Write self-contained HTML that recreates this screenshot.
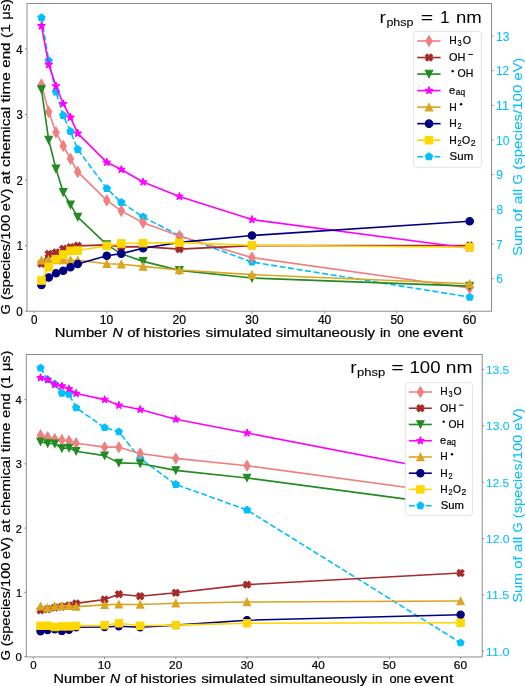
<!DOCTYPE html>
<html><head><meta charset="utf-8"><style>
html,body{margin:0;padding:0;background:#fff;width:525px;height:686px;overflow:hidden}
svg{display:block;will-change:transform}
text{font-family:"Liberation Sans", sans-serif}
</style></head><body>
<svg width="525" height="686" viewBox="0 0 525 686" font-family='"Liberation Sans", sans-serif'>
<rect width="525" height="686" fill="#fff"/>
<clipPath id="clip0"><rect x="27.0" y="3.5" width="464.5" height="307.7"/></clipPath>
<g clip-path="url(#clip0)">
<path d="M41.46,17.62 L48.72,60.62 L55.97,91.82 L63.23,115.39 L70.49,131.34 L77.75,149.37 L106.78,188.55 L121.3,202.42 L143.07,216.98 L179.36,235.7 L251.94,262.05 L469.68,297.07" fill="none" stroke="#00BFFF" stroke-width="1.62" stroke-linejoin="round" stroke-linecap="butt" stroke-dasharray="6,2.6"/>
<g fill="#00BFFF" stroke="#00BFFF" stroke-width="1.08" stroke-linejoin="miter">
<path d="M41.46,13.87 L45.02,16.47 L43.66,20.66 L39.25,20.66 L37.89,16.47Z"/>
<path d="M48.72,56.87 L52.28,59.46 L50.92,63.65 L46.51,63.65 L45.15,59.46Z"/>
<path d="M55.97,88.07 L59.54,90.66 L58.18,94.85 L53.77,94.85 L52.41,90.66Z"/>
<path d="M63.23,111.64 L66.8,114.24 L65.44,118.43 L61.03,118.43 L59.67,114.24Z"/>
<path d="M70.49,127.59 L74.06,130.18 L72.69,134.38 L68.29,134.38 L66.92,130.18Z"/>
<path d="M77.75,145.62 L81.31,148.21 L79.95,152.4 L75.54,152.4 L74.18,148.21Z"/>
<path d="M106.78,184.8 L110.35,187.39 L108.98,191.58 L104.58,191.58 L103.21,187.39Z"/>
<path d="M121.3,198.67 L124.86,201.26 L123.5,205.45 L119.09,205.45 L117.73,201.26Z"/>
<path d="M143.07,213.23 L146.64,215.82 L145.27,220.01 L140.87,220.01 L139.5,215.82Z"/>
<path d="M179.36,231.95 L182.93,234.54 L181.56,238.73 L177.16,238.73 L175.79,234.54Z"/>
<path d="M251.94,258.3 L255.51,260.89 L254.14,265.08 L249.74,265.08 L248.37,260.89Z"/>
<path d="M469.68,293.32 L473.25,295.91 L471.88,300.1 L467.48,300.1 L466.11,295.91Z"/>
</g>
<path d="M41.46,84.49 L48.72,111.84 L55.97,132.43 L63.23,145.94 L70.49,158.86 L77.75,171.91 L106.78,200.37 L121.3,210.86 L143.07,222.67 L179.36,235.98 L251.94,257.62 L469.68,287.98" fill="none" stroke="#F08080" stroke-width="1.62" stroke-linejoin="round" stroke-linecap="butt"/>
<g fill="#F08080" stroke="#F08080" stroke-width="1.08" stroke-linejoin="miter">
<path d="M41.46,79.19 L44.64,84.49 L41.46,89.79 L38.28,84.49Z"/>
<path d="M48.72,106.53 L51.9,111.84 L48.72,117.14 L45.53,111.84Z"/>
<path d="M55.97,127.13 L59.16,132.43 L55.97,137.73 L52.79,132.43Z"/>
<path d="M63.23,140.64 L66.41,145.94 L63.23,151.24 L60.05,145.94Z"/>
<path d="M70.49,153.55 L73.67,158.86 L70.49,164.16 L67.31,158.86Z"/>
<path d="M77.75,166.6 L80.93,171.91 L77.75,177.21 L74.57,171.91Z"/>
<path d="M106.78,195.07 L109.96,200.37 L106.78,205.67 L103.6,200.37Z"/>
<path d="M121.3,205.56 L124.48,210.86 L121.3,216.17 L118.11,210.86Z"/>
<path d="M143.07,217.36 L146.25,222.67 L143.07,227.97 L139.89,222.67Z"/>
<path d="M179.36,230.68 L182.54,235.98 L179.36,241.28 L176.18,235.98Z"/>
<path d="M251.94,252.32 L255.12,257.62 L251.94,262.92 L248.76,257.62Z"/>
<path d="M469.68,282.68 L472.86,287.98 L469.68,293.29 L466.5,287.98Z"/>
</g>
<path d="M41.46,263.79 L48.72,254.01 L55.97,252.51 L63.23,248.9 L70.49,247.19 L77.75,245.82 L106.78,244.83 L121.3,246.93 L143.07,246.6 L179.36,249.1 L251.94,245.62 L469.68,245.62" fill="none" stroke="#A52A2A" stroke-width="1.62" stroke-linejoin="round" stroke-linecap="butt"/>
<g fill="#A52A2A" stroke="#A52A2A" stroke-width="1.08" stroke-linejoin="miter">
<path d="M43.23,260.25 L44.99,262.02 L43.23,263.79 L44.99,265.55 L43.23,267.32 L41.46,265.55 L39.69,267.32 L37.92,265.55 L39.69,263.79 L37.92,262.02 L39.69,260.25 L41.46,262.02Z"/>
<path d="M50.48,250.48 L52.25,252.25 L50.48,254.01 L52.25,255.78 L50.48,257.55 L48.72,255.78 L46.95,257.55 L45.18,255.78 L46.95,254.01 L45.18,252.25 L46.95,250.48 L48.72,252.25Z"/>
<path d="M57.74,248.97 L59.51,250.74 L57.74,252.51 L59.51,254.27 L57.74,256.04 L55.97,254.27 L54.21,256.04 L52.44,254.27 L54.21,252.51 L52.44,250.74 L54.21,248.97 L55.97,250.74Z"/>
<path d="M65,245.36 L66.77,247.13 L65,248.9 L66.77,250.67 L65,252.43 L63.23,250.67 L61.46,252.43 L59.7,250.67 L61.46,248.9 L59.7,247.13 L61.46,245.36 L63.23,247.13Z"/>
<path d="M72.26,243.66 L74.03,245.43 L72.26,247.19 L74.03,248.96 L72.26,250.73 L70.49,248.96 L68.72,250.73 L66.95,248.96 L68.72,247.19 L66.95,245.43 L68.72,243.66 L70.49,245.43Z"/>
<path d="M79.52,242.28 L81.28,244.05 L79.52,245.82 L81.28,247.58 L79.52,249.35 L77.75,247.58 L75.98,249.35 L74.21,247.58 L75.98,245.82 L74.21,244.05 L75.98,242.28 L77.75,244.05Z"/>
<path d="M108.55,241.3 L110.32,243.07 L108.55,244.83 L110.32,246.6 L108.55,248.37 L106.78,246.6 L105.01,248.37 L103.24,246.6 L105.01,244.83 L103.24,243.07 L105.01,241.3 L106.78,243.07Z"/>
<path d="M123.06,243.4 L124.83,245.16 L123.06,246.93 L124.83,248.7 L123.06,250.47 L121.3,248.7 L119.53,250.47 L117.76,248.7 L119.53,246.93 L117.76,245.16 L119.53,243.4 L121.3,245.16Z"/>
<path d="M144.84,243.07 L146.61,244.84 L144.84,246.6 L146.61,248.37 L144.84,250.14 L143.07,248.37 L141.3,250.14 L139.53,248.37 L141.3,246.6 L139.53,244.84 L141.3,243.07 L143.07,244.84Z"/>
<path d="M181.13,245.56 L182.9,247.33 L181.13,249.1 L182.9,250.86 L181.13,252.63 L179.36,250.86 L177.59,252.63 L175.82,250.86 L177.59,249.1 L175.82,247.33 L177.59,245.56 L179.36,247.33Z"/>
<path d="M253.71,242.08 L255.48,243.85 L253.71,245.62 L255.48,247.39 L253.71,249.16 L251.94,247.39 L250.17,249.16 L248.4,247.39 L250.17,245.62 L248.4,243.85 L250.17,242.08 L251.94,243.85Z"/>
<path d="M471.45,242.08 L473.22,243.85 L471.45,245.62 L473.22,247.39 L471.45,249.16 L469.68,247.39 L467.91,249.16 L466.14,247.39 L467.91,245.62 L466.14,243.85 L467.91,242.08 L469.68,243.85Z"/>
</g>
<path d="M41.46,89.54 L48.72,140.04 L55.97,168.69 L63.23,192.3 L70.49,204.7 L77.75,217.09 L106.78,244.64 L121.3,253.82 L143.07,261.36 L179.36,270.41 L251.94,278.02 L469.68,286.08" fill="none" stroke="#228B22" stroke-width="1.62" stroke-linejoin="round" stroke-linecap="butt"/>
<g fill="#228B22" stroke="#228B22" stroke-width="1.08" stroke-linejoin="miter">
<path d="M41.46,93.29 L45.21,85.79 L37.71,85.79Z"/>
<path d="M48.72,143.79 L52.47,136.29 L44.97,136.29Z"/>
<path d="M55.97,172.44 L59.72,164.94 L52.22,164.94Z"/>
<path d="M63.23,196.05 L66.98,188.55 L59.48,188.55Z"/>
<path d="M70.49,208.45 L74.24,200.95 L66.74,200.95Z"/>
<path d="M77.75,220.84 L81.5,213.34 L74,213.34Z"/>
<path d="M106.78,248.39 L110.53,240.89 L103.03,240.89Z"/>
<path d="M143.07,265.11 L146.82,257.61 L139.32,257.61Z"/>
<path d="M179.36,274.16 L183.11,266.66 L175.61,266.66Z"/>
<path d="M251.94,281.77 L255.69,274.27 L248.19,274.27Z"/>
<path d="M469.68,289.83 L473.43,282.33 L465.93,282.33Z"/>
</g>
<path d="M41.46,25.93 L48.72,64.62 L55.97,86 L63.23,103.77 L70.49,117.41 L77.75,133.41 L106.78,162.33 L121.3,169.55 L143.07,182.01 L179.36,196.44 L251.94,219.58 L469.68,248.24" fill="none" stroke="#FF00FF" stroke-width="1.62" stroke-linejoin="round" stroke-linecap="butt"/>
<g fill="#FF00FF" stroke="#FF00FF" stroke-width="1.08" stroke-linejoin="bevel">
<path d="M41.46,21.8 L42.38,24.65 L45.38,24.65 L42.96,26.41 L43.88,29.26 L41.46,27.5 L39.03,29.26 L39.96,26.41 L37.53,24.65 L40.53,24.65Z"/>
<path d="M48.72,60.49 L49.64,63.34 L52.64,63.34 L50.21,65.11 L51.14,67.96 L48.72,66.19 L46.29,67.96 L47.22,65.11 L44.79,63.34 L47.79,63.34Z"/>
<path d="M55.97,81.87 L56.9,84.72 L59.9,84.72 L57.47,86.49 L58.4,89.34 L55.97,87.57 L53.55,89.34 L54.48,86.49 L52.05,84.72 L55.05,84.72Z"/>
<path d="M63.23,99.65 L64.16,102.5 L67.16,102.5 L64.73,104.26 L65.66,107.11 L63.23,105.35 L60.81,107.11 L61.73,104.26 L59.31,102.5 L62.31,102.5Z"/>
<path d="M70.49,113.29 L71.42,116.14 L74.41,116.14 L71.99,117.9 L72.91,120.75 L70.49,118.99 L68.07,120.75 L68.99,117.9 L66.57,116.14 L69.56,116.14Z"/>
<path d="M77.75,129.29 L78.67,132.14 L81.67,132.14 L79.25,133.9 L80.17,136.75 L77.75,134.99 L75.32,136.75 L76.25,133.9 L73.82,132.14 L76.82,132.14Z"/>
<path d="M106.78,158.21 L107.71,161.06 L110.7,161.06 L108.28,162.82 L109.2,165.67 L106.78,163.91 L104.36,165.67 L105.28,162.82 L102.86,161.06 L105.85,161.06Z"/>
<path d="M121.3,165.42 L122.22,168.27 L125.22,168.27 L122.79,170.03 L123.72,172.88 L121.3,171.12 L118.87,172.88 L119.8,170.03 L117.37,168.27 L120.37,168.27Z"/>
<path d="M143.07,177.88 L144,180.73 L146.99,180.73 L144.57,182.49 L145.49,185.34 L143.07,183.58 L140.65,185.34 L141.57,182.49 L139.15,180.73 L142.14,180.73Z"/>
<path d="M179.36,192.31 L180.29,195.16 L183.28,195.16 L180.86,196.92 L181.78,199.77 L179.36,198.01 L176.94,199.77 L177.86,196.92 L175.44,195.16 L178.43,195.16Z"/>
<path d="M251.94,215.46 L252.87,218.31 L255.86,218.31 L253.44,220.07 L254.36,222.92 L251.94,221.16 L249.52,222.92 L250.44,220.07 L248.02,218.31 L251.01,218.31Z"/>
<path d="M469.68,244.12 L470.61,246.97 L473.6,246.97 L471.18,248.73 L472.1,251.58 L469.68,249.82 L467.26,251.58 L468.18,248.73 L465.76,246.97 L468.75,246.97Z"/>
</g>
<path d="M41.46,260.31 L48.72,259.72 L55.97,260.05 L63.23,260.05 L70.49,260.24 L77.75,260.24 L106.78,263.72 L121.3,264.31 L143.07,266.41 L179.36,270.02 L251.94,274.67 L469.68,283.79" fill="none" stroke="#DAA520" stroke-width="1.62" stroke-linejoin="round" stroke-linecap="butt"/>
<g fill="#DAA520" stroke="#DAA520" stroke-width="1.08" stroke-linejoin="miter">
<path d="M41.46,256.56 L45.21,264.06 L37.71,264.06Z"/>
<path d="M48.72,255.97 L52.47,263.47 L44.97,263.47Z"/>
<path d="M55.97,256.3 L59.72,263.8 L52.22,263.8Z"/>
<path d="M63.23,256.3 L66.98,263.8 L59.48,263.8Z"/>
<path d="M70.49,256.49 L74.24,263.99 L66.74,263.99Z"/>
<path d="M77.75,256.49 L81.5,263.99 L74,263.99Z"/>
<path d="M106.78,259.97 L110.53,267.47 L103.03,267.47Z"/>
<path d="M121.3,260.56 L125.05,268.06 L117.55,268.06Z"/>
<path d="M143.07,262.66 L146.82,270.16 L139.32,270.16Z"/>
<path d="M179.36,266.27 L183.11,273.77 L175.61,273.77Z"/>
<path d="M251.94,270.92 L255.69,278.42 L248.19,278.42Z"/>
<path d="M469.68,280.04 L473.43,287.54 L465.93,287.54Z"/>
</g>
<path d="M41.46,284.97 L48.72,277.43 L55.97,273.29 L63.23,270.74 L70.49,267.33 L77.75,263.98 L106.78,255.72 L121.3,253.62 L143.07,248.24 L179.36,242.34 L251.94,235.52 L469.68,221.29" fill="none" stroke="#000080" stroke-width="1.62" stroke-linejoin="round" stroke-linecap="butt"/>
<g fill="#000080" stroke="#000080" stroke-width="1.08" stroke-linejoin="round">
<circle cx="41.46" cy="284.97" r="3.75"/>
<circle cx="48.72" cy="277.43" r="3.75"/>
<circle cx="55.97" cy="273.29" r="3.75"/>
<circle cx="63.23" cy="270.74" r="3.75"/>
<circle cx="70.49" cy="267.33" r="3.75"/>
<circle cx="77.75" cy="263.98" r="3.75"/>
<circle cx="106.78" cy="255.72" r="3.75"/>
<circle cx="121.3" cy="253.62" r="3.75"/>
<circle cx="143.07" cy="248.24" r="3.75"/>
<circle cx="179.36" cy="242.34" r="3.75"/>
<circle cx="251.94" cy="235.52" r="3.75"/>
<circle cx="469.68" cy="221.29" r="3.75"/>
</g>
<path d="M41.46,280.51 L48.72,267.2 L55.97,259.2 L63.23,254.54 L70.49,250.87 L77.75,250.54 L106.78,245.88 L121.3,243.46 L143.07,243.13 L179.36,242.6 L251.94,245.29 L469.68,247.26" fill="none" stroke="#FFD700" stroke-width="1.62" stroke-linejoin="round" stroke-linecap="butt"/>
<g fill="#FFD700" stroke="#FFD700" stroke-width="1.08" stroke-linejoin="miter">
<rect x="37.71" y="276.76" width="7.5" height="7.5"/>
<rect x="44.97" y="263.45" width="7.5" height="7.5"/>
<rect x="52.22" y="255.45" width="7.5" height="7.5"/>
<rect x="59.48" y="250.79" width="7.5" height="7.5"/>
<rect x="66.74" y="247.12" width="7.5" height="7.5"/>
<rect x="74" y="246.79" width="7.5" height="7.5"/>
<rect x="103.03" y="242.13" width="7.5" height="7.5"/>
<rect x="117.55" y="239.71" width="7.5" height="7.5"/>
<rect x="139.32" y="239.38" width="7.5" height="7.5"/>
<rect x="175.61" y="238.85" width="7.5" height="7.5"/>
<rect x="248.19" y="241.54" width="7.5" height="7.5"/>
<rect x="465.93" y="243.51" width="7.5" height="7.5"/>
</g>
</g>
<rect x="27" y="3.5" width="464.5" height="307.7" fill="none" stroke="#8c8c8c" stroke-width="1.0"/>
<clipPath id="clip1"><rect x="26.3" y="354.5" width="455.9" height="302.45"/></clipPath>
<g clip-path="url(#clip1)">
<path d="M40.52,367.98 L47.64,379.59 L54.76,384.1 L61.88,393.12 L69,394.24 L76.12,407.77 L104.6,427.6 L118.84,431.77 L140.2,458.48 L175.8,484.4 L247,509.99 L460.6,642.75" fill="none" stroke="#00BFFF" stroke-width="1.59" stroke-linejoin="round" stroke-linecap="butt" stroke-dasharray="5.89,2.55"/>
<g fill="#00BFFF" stroke="#00BFFF" stroke-width="1.06" stroke-linejoin="miter">
<path d="M40.52,364.3 L44.02,366.85 L42.68,370.96 L38.36,370.96 L37.02,366.85Z"/>
<path d="M47.64,375.91 L51.14,378.46 L49.8,382.57 L45.48,382.57 L44.14,378.46Z"/>
<path d="M54.76,380.42 L58.26,382.96 L56.92,387.08 L52.6,387.08 L51.26,382.96Z"/>
<path d="M61.88,389.43 L65.38,391.98 L64.04,396.1 L59.72,396.1 L58.38,391.98Z"/>
<path d="M69,390.56 L72.5,393.11 L71.16,397.22 L66.84,397.22 L65.5,393.11Z"/>
<path d="M76.12,404.09 L79.62,406.63 L78.28,410.75 L73.96,410.75 L72.62,406.63Z"/>
<path d="M104.6,423.92 L108.1,426.47 L106.76,430.58 L102.44,430.58 L101.1,426.47Z"/>
<path d="M118.84,428.09 L122.34,430.64 L121,434.75 L116.68,434.75 L115.34,430.64Z"/>
<path d="M140.2,454.8 L143.7,457.35 L142.36,461.46 L138.04,461.46 L136.7,457.35Z"/>
<path d="M175.8,480.72 L179.3,483.27 L177.96,487.38 L173.64,487.38 L172.3,483.27Z"/>
<path d="M247,506.3 L250.5,508.85 L249.16,512.97 L244.84,512.97 L243.5,508.85Z"/>
<path d="M460.6,639.07 L464.1,641.61 L462.76,645.73 L458.44,645.73 L457.1,641.61Z"/>
</g>
<path d="M40.52,435.19 L47.64,437.12 L54.76,438.99 L61.88,440.01 L69,440.91 L76.12,443.29 L104.6,447.15 L118.84,447.15 L140.2,453.57 L175.8,458.39 L247,465.71 L460.6,494.69" fill="none" stroke="#F08080" stroke-width="1.59" stroke-linejoin="round" stroke-linecap="butt"/>
<g fill="#F08080" stroke="#F08080" stroke-width="1.06" stroke-linejoin="miter">
<path d="M40.52,429.99 L43.64,435.19 L40.52,440.4 L37.4,435.19Z"/>
<path d="M47.64,431.91 L50.76,437.12 L47.64,442.33 L44.52,437.12Z"/>
<path d="M54.76,433.78 L57.88,438.99 L54.76,444.19 L51.64,438.99Z"/>
<path d="M61.88,434.81 L65,440.01 L61.88,445.22 L58.76,440.01Z"/>
<path d="M69,435.7 L72.12,440.91 L69,446.12 L65.88,440.91Z"/>
<path d="M76.12,438.08 L79.24,443.29 L76.12,448.5 L73,443.29Z"/>
<path d="M104.6,441.94 L107.72,447.15 L104.6,452.35 L101.48,447.15Z"/>
<path d="M118.84,441.94 L121.96,447.15 L118.84,452.35 L115.72,447.15Z"/>
<path d="M140.2,448.36 L143.32,453.57 L140.2,458.78 L137.08,453.57Z"/>
<path d="M175.8,453.18 L178.92,458.39 L175.8,463.6 L172.68,458.39Z"/>
<path d="M247,460.51 L250.12,465.71 L247,470.92 L243.88,465.71Z"/>
<path d="M460.6,489.48 L463.72,494.69 L460.6,499.9 L457.48,494.69Z"/>
</g>
<path d="M40.52,610.34 L47.64,609.31 L54.76,607.64 L61.88,606.68 L69,605.39 L76.12,603.4 L104.6,599.48 L118.84,594.21 L140.2,596.21 L175.8,592.8 L247,584.64 L460.6,573.08" fill="none" stroke="#A52A2A" stroke-width="1.59" stroke-linejoin="round" stroke-linecap="butt"/>
<g fill="#A52A2A" stroke="#A52A2A" stroke-width="1.06" stroke-linejoin="miter">
<path d="M42.26,606.87 L43.99,608.6 L42.26,610.34 L43.99,612.08 L42.26,613.81 L40.52,612.08 L38.78,613.81 L37.05,612.08 L38.78,610.34 L37.05,608.6 L38.78,606.87 L40.52,608.6Z"/>
<path d="M49.38,605.84 L51.11,607.58 L49.38,609.31 L51.11,611.05 L49.38,612.78 L47.64,611.05 L45.9,612.78 L44.17,611.05 L45.9,609.31 L44.17,607.58 L45.9,605.84 L47.64,607.58Z"/>
<path d="M56.5,604.17 L58.23,605.91 L56.5,607.64 L58.23,609.38 L56.5,611.11 L54.76,609.38 L53.02,611.11 L51.29,609.38 L53.02,607.64 L51.29,605.91 L53.02,604.17 L54.76,605.91Z"/>
<path d="M63.62,603.21 L65.35,604.94 L63.62,606.68 L65.35,608.41 L63.62,610.15 L61.88,608.41 L60.14,610.15 L58.41,608.41 L60.14,606.68 L58.41,604.94 L60.14,603.21 L61.88,604.94Z"/>
<path d="M70.74,601.92 L72.47,603.66 L70.74,605.39 L72.47,607.13 L70.74,608.86 L69,607.13 L67.26,608.86 L65.53,607.13 L67.26,605.39 L65.53,603.66 L67.26,601.92 L69,603.66Z"/>
<path d="M77.86,599.93 L79.59,601.67 L77.86,603.4 L79.59,605.14 L77.86,606.87 L76.12,605.14 L74.38,606.87 L72.65,605.14 L74.38,603.4 L72.65,601.67 L74.38,599.93 L76.12,601.67Z"/>
<path d="M106.34,596.01 L108.07,597.75 L106.34,599.48 L108.07,601.22 L106.34,602.95 L104.6,601.22 L102.86,602.95 L101.13,601.22 L102.86,599.48 L101.13,597.75 L102.86,596.01 L104.6,597.75Z"/>
<path d="M120.58,590.74 L122.31,592.48 L120.58,594.21 L122.31,595.95 L120.58,597.69 L118.84,595.95 L117.1,597.69 L115.37,595.95 L117.1,594.21 L115.37,592.48 L117.1,590.74 L118.84,592.48Z"/>
<path d="M141.94,592.73 L143.67,594.47 L141.94,596.21 L143.67,597.94 L141.94,599.68 L140.2,597.94 L138.46,599.68 L136.73,597.94 L138.46,596.21 L136.73,594.47 L138.46,592.73 L140.2,594.47Z"/>
<path d="M177.54,589.33 L179.27,591.06 L177.54,592.8 L179.27,594.54 L177.54,596.27 L175.8,594.54 L174.06,596.27 L172.33,594.54 L174.06,592.8 L172.33,591.06 L174.06,589.33 L175.8,591.06Z"/>
<path d="M248.74,581.17 L250.47,582.9 L248.74,584.64 L250.47,586.38 L248.74,588.11 L247,586.38 L245.26,588.11 L243.53,586.38 L245.26,584.64 L243.53,582.9 L245.26,581.17 L247,582.9Z"/>
<path d="M462.34,569.6 L464.07,571.34 L462.34,573.08 L464.07,574.81 L462.34,576.55 L460.6,574.81 L458.86,576.55 L457.13,574.81 L458.86,573.08 L457.13,571.34 L458.86,569.6 L460.6,571.34Z"/>
</g>
<path d="M40.52,441.68 L47.64,443.48 L54.76,443.8 L61.88,448.43 L69,448.04 L76.12,451.19 L104.6,455.63 L118.84,462.89 L140.2,463.53 L175.8,470.4 L247,477.92 L460.6,506.38" fill="none" stroke="#228B22" stroke-width="1.59" stroke-linejoin="round" stroke-linecap="butt"/>
<g fill="#228B22" stroke="#228B22" stroke-width="1.06" stroke-linejoin="miter">
<path d="M40.52,445.37 L44.2,438 L36.84,438Z"/>
<path d="M47.64,447.17 L51.32,439.8 L43.96,439.8Z"/>
<path d="M54.76,447.49 L58.44,440.12 L51.08,440.12Z"/>
<path d="M61.88,452.11 L65.56,444.75 L58.2,444.75Z"/>
<path d="M69,451.73 L72.68,444.36 L65.32,444.36Z"/>
<path d="M76.12,454.88 L79.8,447.51 L72.44,447.51Z"/>
<path d="M104.6,459.31 L108.28,451.94 L100.92,451.94Z"/>
<path d="M118.84,466.57 L122.52,459.2 L115.16,459.2Z"/>
<path d="M140.2,467.21 L143.88,459.85 L136.52,459.85Z"/>
<path d="M175.8,474.09 L179.48,466.72 L172.12,466.72Z"/>
<path d="M247,481.6 L250.68,474.24 L243.32,474.24Z"/>
<path d="M460.6,510.07 L464.28,502.7 L456.92,502.7Z"/>
</g>
<path d="M40.52,377.76 L47.64,379.68 L54.76,384.5 L61.88,386.11 L69,388.87 L76.12,393.5 L104.6,399.6 L118.84,405.32 L140.2,409.49 L175.8,419.2 L247,433.01 L460.6,474.32" fill="none" stroke="#FF00FF" stroke-width="1.59" stroke-linejoin="round" stroke-linecap="butt"/>
<g fill="#FF00FF" stroke="#FF00FF" stroke-width="1.06" stroke-linejoin="bevel">
<path d="M40.52,373.7 L41.43,376.5 L44.37,376.5 L41.99,378.23 L42.9,381.03 L40.52,379.3 L38.14,381.03 L39.05,378.23 L36.67,376.5 L39.61,376.5Z"/>
<path d="M47.64,375.63 L48.55,378.43 L51.49,378.43 L49.11,380.16 L50.02,382.96 L47.64,381.23 L45.26,382.96 L46.17,380.16 L43.79,378.43 L46.73,378.43Z"/>
<path d="M54.76,380.45 L55.67,383.25 L58.61,383.25 L56.23,384.98 L57.14,387.78 L54.76,386.05 L52.38,387.78 L53.29,384.98 L50.91,383.25 L53.85,383.25Z"/>
<path d="M61.88,382.06 L62.79,384.86 L65.73,384.86 L63.35,386.59 L64.26,389.38 L61.88,387.65 L59.5,389.38 L60.41,386.59 L58.03,384.86 L60.97,384.86Z"/>
<path d="M69,384.82 L69.91,387.62 L72.85,387.62 L70.47,389.35 L71.38,392.15 L69,390.42 L66.62,392.15 L67.53,389.35 L65.15,387.62 L68.09,387.62Z"/>
<path d="M76.12,389.45 L77.03,392.24 L79.97,392.24 L77.59,393.97 L78.5,396.77 L76.12,395.04 L73.74,396.77 L74.65,393.97 L72.27,392.24 L75.21,392.24Z"/>
<path d="M104.6,395.55 L105.51,398.35 L108.45,398.35 L106.07,400.08 L106.98,402.88 L104.6,401.15 L102.22,402.88 L103.13,400.08 L100.75,398.35 L103.69,398.35Z"/>
<path d="M118.84,401.27 L119.75,404.07 L122.69,404.07 L120.31,405.8 L121.22,408.6 L118.84,406.87 L116.46,408.6 L117.37,405.8 L114.99,404.07 L117.93,404.07Z"/>
<path d="M140.2,405.44 L141.11,408.24 L144.05,408.24 L141.67,409.97 L142.58,412.77 L140.2,411.04 L137.82,412.77 L138.73,409.97 L136.35,408.24 L139.29,408.24Z"/>
<path d="M175.8,415.15 L176.71,417.94 L179.65,417.94 L177.27,419.67 L178.18,422.47 L175.8,420.74 L173.42,422.47 L174.33,419.67 L171.95,417.94 L174.89,417.94Z"/>
<path d="M247,428.96 L247.91,431.76 L250.85,431.76 L248.47,433.49 L249.38,436.29 L247,434.56 L244.62,436.29 L245.53,433.49 L243.15,431.76 L246.09,431.76Z"/>
<path d="M460.6,470.27 L461.51,473.07 L464.45,473.07 L462.07,474.8 L462.98,477.6 L460.6,475.87 L458.22,477.6 L459.13,474.8 L456.75,473.07 L459.69,473.07Z"/>
</g>
<path d="M40.52,606.29 L47.64,607.96 L54.76,606.29 L61.88,605.84 L69,605.84 L76.12,606.61 L104.6,604.88 L118.84,604.3 L140.2,604.43 L175.8,603.21 L247,601.99 L460.6,601.02" fill="none" stroke="#DAA520" stroke-width="1.59" stroke-linejoin="round" stroke-linecap="butt"/>
<g fill="#DAA520" stroke="#DAA520" stroke-width="1.06" stroke-linejoin="miter">
<path d="M40.52,602.61 L44.2,609.97 L36.84,609.97Z"/>
<path d="M47.64,604.28 L51.32,611.65 L43.96,611.65Z"/>
<path d="M54.76,602.61 L58.44,609.97 L51.08,609.97Z"/>
<path d="M61.88,602.16 L65.56,609.52 L58.2,609.52Z"/>
<path d="M69,602.16 L72.68,609.52 L65.32,609.52Z"/>
<path d="M76.12,602.93 L79.8,610.3 L72.44,610.3Z"/>
<path d="M104.6,601.2 L108.28,608.56 L100.92,608.56Z"/>
<path d="M118.84,600.62 L122.52,607.98 L115.16,607.98Z"/>
<path d="M140.2,600.75 L143.88,608.11 L136.52,608.11Z"/>
<path d="M175.8,599.53 L179.48,606.89 L172.12,606.89Z"/>
<path d="M247,598.31 L250.68,605.67 L243.32,605.67Z"/>
<path d="M460.6,597.34 L464.28,604.71 L456.92,604.71Z"/>
</g>
<path d="M40.52,631.22 L47.64,629.94 L54.76,629.29 L61.88,630.9 L69,629.87 L76.12,627.3 L104.6,627.05 L118.84,626.21 L140.2,627.3 L175.8,625.12 L247,620.17 L460.6,614.77" fill="none" stroke="#000080" stroke-width="1.59" stroke-linejoin="round" stroke-linecap="butt"/>
<g fill="#000080" stroke="#000080" stroke-width="1.06" stroke-linejoin="round">
<circle cx="40.52" cy="631.22" r="3.68"/>
<circle cx="47.64" cy="629.94" r="3.68"/>
<circle cx="54.76" cy="629.29" r="3.68"/>
<circle cx="61.88" cy="630.9" r="3.68"/>
<circle cx="69" cy="629.87" r="3.68"/>
<circle cx="76.12" cy="627.3" r="3.68"/>
<circle cx="104.6" cy="627.05" r="3.68"/>
<circle cx="118.84" cy="626.21" r="3.68"/>
<circle cx="140.2" cy="627.3" r="3.68"/>
<circle cx="175.8" cy="625.12" r="3.68"/>
<circle cx="247" cy="620.17" r="3.68"/>
<circle cx="460.6" cy="614.77" r="3.68"/>
</g>
<path d="M40.52,625.76 L47.64,625.76 L54.76,627.05 L61.88,626.4 L69,626.4 L76.12,625.89 L104.6,625.18 L118.84,623.32 L140.2,625.76 L175.8,625.12 L247,623.32 L460.6,622.8" fill="none" stroke="#FFD700" stroke-width="1.59" stroke-linejoin="round" stroke-linecap="butt"/>
<g fill="#FFD700" stroke="#FFD700" stroke-width="1.06" stroke-linejoin="miter">
<rect x="36.84" y="622.08" width="7.37" height="7.37"/>
<rect x="43.96" y="622.08" width="7.37" height="7.37"/>
<rect x="51.08" y="623.36" width="7.37" height="7.37"/>
<rect x="58.2" y="622.72" width="7.37" height="7.37"/>
<rect x="65.32" y="622.72" width="7.37" height="7.37"/>
<rect x="72.44" y="622.21" width="7.37" height="7.37"/>
<rect x="100.92" y="621.5" width="7.37" height="7.37"/>
<rect x="115.16" y="619.64" width="7.37" height="7.37"/>
<rect x="136.52" y="622.08" width="7.37" height="7.37"/>
<rect x="172.12" y="621.44" width="7.37" height="7.37"/>
<rect x="243.32" y="619.64" width="7.37" height="7.37"/>
<rect x="456.92" y="619.12" width="7.37" height="7.37"/>
</g>
</g>
<rect x="26.3" y="354.5" width="455.9" height="302.45" fill="none" stroke="#8c8c8c" stroke-width="1.0"/>
<text x="16.22" y="315.92" font-size="11.9" fill="#000" stroke="#000" stroke-width="0.2" textLength="6.5" lengthAdjust="spacingAndGlyphs">0</text>
<text x="16.69" y="250.34" font-size="11.9" fill="#000" stroke="#000" stroke-width="0.2" textLength="6.12" lengthAdjust="spacingAndGlyphs">1</text>
<text x="16.57" y="184.75" font-size="11.9" fill="#000" stroke="#000" stroke-width="0.2" textLength="6.25" lengthAdjust="spacingAndGlyphs">2</text>
<text x="16.57" y="119.17" font-size="11.9" fill="#000" stroke="#000" stroke-width="0.2" textLength="6.25" lengthAdjust="spacingAndGlyphs">3</text>
<text x="16.24" y="53.59" font-size="11.9" fill="#000" stroke="#000" stroke-width="0.2" textLength="6.36" lengthAdjust="spacingAndGlyphs">4</text>
<text x="30.93" y="323.6" font-size="11.9" fill="#000" stroke="#000" stroke-width="0.2" textLength="6.5" lengthAdjust="spacingAndGlyphs">0</text>
<text x="99.76" y="323.6" font-size="11.9" fill="#000" stroke="#000" stroke-width="0.2" textLength="13.46" lengthAdjust="spacingAndGlyphs">10</text>
<text x="172.48" y="323.6" font-size="11.9" fill="#000" stroke="#000" stroke-width="0.2" textLength="13.54" lengthAdjust="spacingAndGlyphs">20</text>
<text x="245.25" y="323.6" font-size="11.9" fill="#000" stroke="#000" stroke-width="0.2" textLength="13.29" lengthAdjust="spacingAndGlyphs">30</text>
<text x="317.9" y="323.6" font-size="11.9" fill="#000" stroke="#000" stroke-width="0.2" textLength="13.39" lengthAdjust="spacingAndGlyphs">40</text>
<text x="390.41" y="323.6" font-size="11.9" fill="#000" stroke="#000" stroke-width="0.2" textLength="13.29" lengthAdjust="spacingAndGlyphs">50</text>
<text x="462.8" y="323.6" font-size="11.9" fill="#000" stroke="#000" stroke-width="0.2" textLength="13.54" lengthAdjust="spacingAndGlyphs">60</text>
<text x="496.3" y="283.31" font-size="11.9" fill="#00BFFF" stroke="#00BFFF" stroke-width="0.05" textLength="6.65" lengthAdjust="spacingAndGlyphs">6</text>
<text x="496.34" y="248.63" font-size="11.9" fill="#00BFFF" stroke="#00BFFF" stroke-width="0.05" textLength="6.25" lengthAdjust="spacingAndGlyphs">7</text>
<text x="496.43" y="213.97" font-size="11.9" fill="#00BFFF" stroke="#00BFFF" stroke-width="0.05" textLength="6.51" lengthAdjust="spacingAndGlyphs">8</text>
<text x="496.29" y="179.29" font-size="11.9" fill="#00BFFF" stroke="#00BFFF" stroke-width="0.05" textLength="6.78" lengthAdjust="spacingAndGlyphs">9</text>
<text x="495.93" y="144.62" font-size="11.9" fill="#00BFFF" stroke="#00BFFF" stroke-width="0.05" textLength="13.46" lengthAdjust="spacingAndGlyphs">10</text>
<text x="495.87" y="109.96" font-size="11.9" fill="#00BFFF" stroke="#00BFFF" stroke-width="0.05" textLength="13.43" lengthAdjust="spacingAndGlyphs">11</text>
<text x="495.95" y="75.29" font-size="11.9" fill="#00BFFF" stroke="#00BFFF" stroke-width="0.05" textLength="13.22" lengthAdjust="spacingAndGlyphs">12</text>
<text x="495.93" y="40.62" font-size="11.9" fill="#00BFFF" stroke="#00BFFF" stroke-width="0.05" textLength="13.47" lengthAdjust="spacingAndGlyphs">13</text>
<path d="M25,311.2 H27 M25,245.62 H27 M25,180.04 H27 M25,114.46 H27 M25,48.88 H27 M34.2,311.2 V313.2 M106.78,311.2 V313.2 M179.36,311.2 V313.2 M251.94,311.2 V313.2 M324.52,311.2 V313.2 M397.1,311.2 V313.2 M469.68,311.2 V313.2 M491.5,278.69 H493.5 M491.5,244.02 H493.5 M491.5,209.35 H493.5 M491.5,174.68 H493.5 M491.5,140.01 H493.5 M491.5,105.34 H493.5 M491.5,70.67 H493.5 M491.5,36 H493.5" stroke="#8c8c8c" stroke-width="1.0" fill="none"/>
<text x="15.43" y="661.23" font-size="11.69" fill="#000" stroke="#000" stroke-width="0.2" textLength="6.38" lengthAdjust="spacingAndGlyphs">0</text>
<text x="15.89" y="596.98" font-size="11.69" fill="#000" stroke="#000" stroke-width="0.2" textLength="6.01" lengthAdjust="spacingAndGlyphs">1</text>
<text x="15.77" y="532.73" font-size="11.69" fill="#000" stroke="#000" stroke-width="0.2" textLength="6.14" lengthAdjust="spacingAndGlyphs">2</text>
<text x="15.77" y="468.48" font-size="11.69" fill="#000" stroke="#000" stroke-width="0.2" textLength="6.13" lengthAdjust="spacingAndGlyphs">3</text>
<text x="15.45" y="404.23" font-size="11.69" fill="#000" stroke="#000" stroke-width="0.2" textLength="6.24" lengthAdjust="spacingAndGlyphs">4</text>
<text x="30.19" y="669.4" font-size="11.69" fill="#000" stroke="#000" stroke-width="0.2" textLength="6.38" lengthAdjust="spacingAndGlyphs">0</text>
<text x="97.71" y="669.4" font-size="11.69" fill="#000" stroke="#000" stroke-width="0.2" textLength="13.22" lengthAdjust="spacingAndGlyphs">10</text>
<text x="169.05" y="669.4" font-size="11.69" fill="#000" stroke="#000" stroke-width="0.2" textLength="13.3" lengthAdjust="spacingAndGlyphs">20</text>
<text x="240.43" y="669.4" font-size="11.69" fill="#000" stroke="#000" stroke-width="0.2" textLength="13.05" lengthAdjust="spacingAndGlyphs">30</text>
<text x="311.7" y="669.4" font-size="11.69" fill="#000" stroke="#000" stroke-width="0.2" textLength="13.15" lengthAdjust="spacingAndGlyphs">40</text>
<text x="382.83" y="669.4" font-size="11.69" fill="#000" stroke="#000" stroke-width="0.2" textLength="13.05" lengthAdjust="spacingAndGlyphs">50</text>
<text x="453.85" y="669.4" font-size="11.69" fill="#000" stroke="#000" stroke-width="0.2" textLength="13.3" lengthAdjust="spacingAndGlyphs">60</text>
<text x="485.89" y="655.73" font-size="11.69" fill="#00BFFF" stroke="#00BFFF" stroke-width="0.05" textLength="23.55" lengthAdjust="spacingAndGlyphs">11.0</text>
<text x="485.9" y="599.38" font-size="11.69" fill="#00BFFF" stroke="#00BFFF" stroke-width="0.05" textLength="23.32" lengthAdjust="spacingAndGlyphs">11.5</text>
<text x="485.93" y="543.03" font-size="11.69" fill="#00BFFF" stroke="#00BFFF" stroke-width="0.05" textLength="23.55" lengthAdjust="spacingAndGlyphs">12.0</text>
<text x="485.94" y="486.68" font-size="11.69" fill="#00BFFF" stroke="#00BFFF" stroke-width="0.05" textLength="23.32" lengthAdjust="spacingAndGlyphs">12.5</text>
<text x="485.93" y="430.33" font-size="11.69" fill="#00BFFF" stroke="#00BFFF" stroke-width="0.05" textLength="23.55" lengthAdjust="spacingAndGlyphs">13.0</text>
<text x="485.94" y="373.98" font-size="11.69" fill="#00BFFF" stroke="#00BFFF" stroke-width="0.05" textLength="23.32" lengthAdjust="spacingAndGlyphs">13.5</text>
<path d="M24.34,656.6 H26.3 M24.34,592.35 H26.3 M24.34,528.1 H26.3 M24.34,463.85 H26.3 M24.34,399.6 H26.3 M33.4,656.95 V658.91 M104.6,656.95 V658.91 M175.8,656.95 V658.91 M247,656.95 V658.91 M318.2,656.95 V658.91 M389.4,656.95 V658.91 M460.6,656.95 V658.91 M482.2,651.2 H484.16 M482.2,594.85 H484.16 M482.2,538.5 H484.16 M482.2,482.15 H484.16 M482.2,425.8 H484.16 M482.2,369.45 H484.16" stroke="#8c8c8c" stroke-width="1.0" fill="none"/>
<text x="54.72" y="337.3" font-size="12.5" fill="#000" stroke="#000" stroke-width="0.2" textLength="52.52" lengthAdjust="spacingAndGlyphs">Number</text>
<text x="112.47" y="337.3" font-size="12.5" fill="#000" stroke="#000" stroke-width="0.2" textLength="10.36" lengthAdjust="spacingAndGlyphs" font-style="italic">N</text>
<text x="127.19" y="337.3" font-size="12.5" fill="#000" stroke="#000" stroke-width="0.2" textLength="12.61" lengthAdjust="spacingAndGlyphs">of</text>
<text x="143.22" y="337.3" font-size="12.5" fill="#000" stroke="#000" stroke-width="0.2" textLength="57.35" lengthAdjust="spacingAndGlyphs">histories</text>
<text x="205.54" y="337.3" font-size="12.5" fill="#000" stroke="#000" stroke-width="0.2" textLength="66.24" lengthAdjust="spacingAndGlyphs">simulated</text>
<text x="275.65" y="337.3" font-size="12.5" fill="#000" stroke="#000" stroke-width="0.2" textLength="99.41" lengthAdjust="spacingAndGlyphs">simultaneously</text>
<text x="380.05" y="337.3" font-size="12.5" fill="#000" stroke="#000" stroke-width="0.2" textLength="10.58" lengthAdjust="spacingAndGlyphs">in</text>
<text x="397.78" y="337.3" font-size="12.5" fill="#000" stroke="#000" stroke-width="0.2" textLength="21.86" lengthAdjust="spacingAndGlyphs">one</text>
<text x="422.94" y="337.3" font-size="12.5" fill="#000" stroke="#000" stroke-width="0.2" textLength="40.16" lengthAdjust="spacingAndGlyphs">event</text>
<text x="53.54" y="682.8" font-size="12.3" fill="#000" stroke="#000" stroke-width="0.2" textLength="51.43" lengthAdjust="spacingAndGlyphs">Number</text>
<text x="110.08" y="682.8" font-size="12.3" fill="#000" stroke="#000" stroke-width="0.2" textLength="10.15" lengthAdjust="spacingAndGlyphs" font-style="italic">N</text>
<text x="124.5" y="682.8" font-size="12.3" fill="#000" stroke="#000" stroke-width="0.2" textLength="12.35" lengthAdjust="spacingAndGlyphs">of</text>
<text x="140.19" y="682.8" font-size="12.3" fill="#000" stroke="#000" stroke-width="0.2" textLength="56.15" lengthAdjust="spacingAndGlyphs">histories</text>
<text x="201.2" y="682.8" font-size="12.3" fill="#000" stroke="#000" stroke-width="0.2" textLength="64.86" lengthAdjust="spacingAndGlyphs">simulated</text>
<text x="269.85" y="682.8" font-size="12.3" fill="#000" stroke="#000" stroke-width="0.2" textLength="97.33" lengthAdjust="spacingAndGlyphs">simultaneously</text>
<text x="372.07" y="682.8" font-size="12.3" fill="#000" stroke="#000" stroke-width="0.2" textLength="10.36" lengthAdjust="spacingAndGlyphs">in</text>
<text x="389.42" y="682.8" font-size="12.3" fill="#000" stroke="#000" stroke-width="0.2" textLength="21.4" lengthAdjust="spacingAndGlyphs">one</text>
<text x="414.07" y="682.8" font-size="12.3" fill="#000" stroke="#000" stroke-width="0.2" textLength="39.32" lengthAdjust="spacingAndGlyphs">event</text>
<text transform="translate(10.4,314.39) rotate(-90)" x="0" y="0" font-size="13.5" fill="#000" stroke="#000" stroke-width="0.2" textLength="10.37" lengthAdjust="spacingAndGlyphs">G</text>
<text transform="translate(10.4,299.98) rotate(-90)" x="0" y="0" font-size="13.5" fill="#000" stroke="#000" stroke-width="0.2" textLength="85.25" lengthAdjust="spacingAndGlyphs">(species/100</text>
<text transform="translate(10.4,211.34) rotate(-90)" x="0" y="0" font-size="13.5" fill="#000" stroke="#000" stroke-width="0.2" textLength="22.61" lengthAdjust="spacingAndGlyphs">eV)</text>
<text transform="translate(10.4,184.58) rotate(-90)" x="0" y="0" font-size="13.5" fill="#000" stroke="#000" stroke-width="0.2" textLength="13.45" lengthAdjust="spacingAndGlyphs">at</text>
<text transform="translate(10.4,166.91) rotate(-90)" x="0" y="0" font-size="13.5" fill="#000" stroke="#000" stroke-width="0.2" textLength="60.1" lengthAdjust="spacingAndGlyphs">chemical</text>
<text transform="translate(10.4,102.41) rotate(-90)" x="0" y="0" font-size="13.5" fill="#000" stroke="#000" stroke-width="0.2" textLength="30.23" lengthAdjust="spacingAndGlyphs">time</text>
<text transform="translate(10.4,67.68) rotate(-90)" x="0" y="0" font-size="13.5" fill="#000" stroke="#000" stroke-width="0.2" textLength="25.21" lengthAdjust="spacingAndGlyphs">end</text>
<text transform="translate(10.4,37.92) rotate(-90)" x="0" y="0" font-size="13.5" fill="#000" stroke="#000" stroke-width="0.2" textLength="13.74" lengthAdjust="spacingAndGlyphs">(1</text>
<text transform="translate(10.4,19.71) rotate(-90)" x="0" y="0" font-size="13.5" fill="#000" stroke="#000" stroke-width="0.2" textLength="20.71" lengthAdjust="spacingAndGlyphs">μs)</text>
<text transform="translate(10.1,660.28) rotate(-90)" x="0" y="0" font-size="13.3" fill="#000" stroke="#000" stroke-width="0.2" textLength="10.18" lengthAdjust="spacingAndGlyphs">G</text>
<text transform="translate(10.1,646.13) rotate(-90)" x="0" y="0" font-size="13.3" fill="#000" stroke="#000" stroke-width="0.2" textLength="83.7" lengthAdjust="spacingAndGlyphs">(species/100</text>
<text transform="translate(10.1,559.11) rotate(-90)" x="0" y="0" font-size="13.3" fill="#000" stroke="#000" stroke-width="0.2" textLength="22.2" lengthAdjust="spacingAndGlyphs">eV)</text>
<text transform="translate(10.1,532.85) rotate(-90)" x="0" y="0" font-size="13.3" fill="#000" stroke="#000" stroke-width="0.2" textLength="13.2" lengthAdjust="spacingAndGlyphs">at</text>
<text transform="translate(10.1,515.5) rotate(-90)" x="0" y="0" font-size="13.3" fill="#000" stroke="#000" stroke-width="0.2" textLength="59.01" lengthAdjust="spacingAndGlyphs">chemical</text>
<text transform="translate(10.1,452.17) rotate(-90)" x="0" y="0" font-size="13.3" fill="#000" stroke="#000" stroke-width="0.2" textLength="29.68" lengthAdjust="spacingAndGlyphs">time</text>
<text transform="translate(10.1,418.07) rotate(-90)" x="0" y="0" font-size="13.3" fill="#000" stroke="#000" stroke-width="0.2" textLength="24.75" lengthAdjust="spacingAndGlyphs">end</text>
<text transform="translate(10.1,388.84) rotate(-90)" x="0" y="0" font-size="13.3" fill="#000" stroke="#000" stroke-width="0.2" textLength="13.49" lengthAdjust="spacingAndGlyphs">(1</text>
<text transform="translate(10.1,370.95) rotate(-90)" x="0" y="0" font-size="13.3" fill="#000" stroke="#000" stroke-width="0.2" textLength="20.33" lengthAdjust="spacingAndGlyphs">μs)</text>
<text transform="translate(521.8,255.74) rotate(-90)" x="0" y="0" font-size="13.5" fill="#00BFFF" stroke="#00BFFF" stroke-width="0.05" textLength="29.99" lengthAdjust="spacingAndGlyphs">Sum</text>
<text transform="translate(521.8,221.5) rotate(-90)" x="0" y="0" font-size="13.5" fill="#00BFFF" stroke="#00BFFF" stroke-width="0.05" textLength="12.89" lengthAdjust="spacingAndGlyphs">of</text>
<text transform="translate(521.8,204.36) rotate(-90)" x="0" y="0" font-size="13.5" fill="#00BFFF" stroke="#00BFFF" stroke-width="0.05" textLength="15.62" lengthAdjust="spacingAndGlyphs">all</text>
<text transform="translate(521.8,184.48) rotate(-90)" x="0" y="0" font-size="13.5" fill="#00BFFF" stroke="#00BFFF" stroke-width="0.05" textLength="10.36" lengthAdjust="spacingAndGlyphs">G</text>
<text transform="translate(521.8,169.87) rotate(-90)" x="0" y="0" font-size="13.5" fill="#00BFFF" stroke="#00BFFF" stroke-width="0.05" textLength="85.19" lengthAdjust="spacingAndGlyphs">(species/100</text>
<text transform="translate(521.8,80.43) rotate(-90)" x="0" y="0" font-size="13.5" fill="#00BFFF" stroke="#00BFFF" stroke-width="0.05" textLength="22.59" lengthAdjust="spacingAndGlyphs">eV)</text>
<text transform="translate(522.4,602.42) rotate(-90)" x="0" y="0" font-size="13.3" fill="#00BFFF" stroke="#00BFFF" stroke-width="0.05" textLength="29.41" lengthAdjust="spacingAndGlyphs">Sum</text>
<text transform="translate(522.4,568.84) rotate(-90)" x="0" y="0" font-size="13.3" fill="#00BFFF" stroke="#00BFFF" stroke-width="0.05" textLength="12.64" lengthAdjust="spacingAndGlyphs">of</text>
<text transform="translate(522.4,552.04) rotate(-90)" x="0" y="0" font-size="13.3" fill="#00BFFF" stroke="#00BFFF" stroke-width="0.05" textLength="15.32" lengthAdjust="spacingAndGlyphs">all</text>
<text transform="translate(522.4,532.55) rotate(-90)" x="0" y="0" font-size="13.3" fill="#00BFFF" stroke="#00BFFF" stroke-width="0.05" textLength="10.16" lengthAdjust="spacingAndGlyphs">G</text>
<text transform="translate(522.4,518.22) rotate(-90)" x="0" y="0" font-size="13.3" fill="#00BFFF" stroke="#00BFFF" stroke-width="0.05" textLength="83.54" lengthAdjust="spacingAndGlyphs">(species/100</text>
<text transform="translate(522.4,430.52) rotate(-90)" x="0" y="0" font-size="13.3" fill="#00BFFF" stroke="#00BFFF" stroke-width="0.05" textLength="22.15" lengthAdjust="spacingAndGlyphs">eV)</text>
<text x="379.46" y="22.6" font-size="16.5" fill="#000" stroke="#000" stroke-width="0" textLength="6.39" lengthAdjust="spacingAndGlyphs">r</text>
<text x="386.45" y="25.8" font-size="11.5" fill="#000" stroke="#000" stroke-width="0.1" textLength="27.02" lengthAdjust="spacingAndGlyphs">phsp</text>
<text x="420.83" y="22.6" font-size="16.5" fill="#000" stroke="#000" stroke-width="0" textLength="12.52" lengthAdjust="spacingAndGlyphs">=</text>
<text x="439.92" y="22.6" font-size="16.5" fill="#000" stroke="#000" stroke-width="0" textLength="9.57" lengthAdjust="spacingAndGlyphs">1</text>
<text x="456" y="22.6" font-size="16.5" fill="#000" stroke="#000" stroke-width="0" textLength="25.8" lengthAdjust="spacingAndGlyphs">nm</text>
<text x="350.16" y="372.8" font-size="16.2" fill="#000" stroke="#000" stroke-width="0" textLength="6.39" lengthAdjust="spacingAndGlyphs">r</text>
<text x="357.02" y="375.9" font-size="11.3" fill="#000" stroke="#000" stroke-width="0.1" textLength="28.18" lengthAdjust="spacingAndGlyphs">phsp</text>
<text x="391.33" y="372.8" font-size="16.2" fill="#000" stroke="#000" stroke-width="0" textLength="12.52" lengthAdjust="spacingAndGlyphs">=</text>
<text x="409.51" y="372.8" font-size="16.2" fill="#000" stroke="#000" stroke-width="0" textLength="31.11" lengthAdjust="spacingAndGlyphs">100</text>
<text x="445.86" y="372.8" font-size="16.2" fill="#000" stroke="#000" stroke-width="0" textLength="26.68" lengthAdjust="spacingAndGlyphs">nm</text>
<rect x="413.6" y="31.4" width="67.8" height="135.8" rx="2.5" fill="#fff" stroke="#e0e0e0" stroke-width="0.9"/>
<path d="M417.2,41 L440.6,41" stroke="#F08080" stroke-width="1.62"/>
<g fill="#F08080" stroke="#F08080" stroke-width="1.08" stroke-linejoin="miter"><path d="M429,35.7 L432.18,41 L429,46.3 L425.82,41Z"/></g>
<path d="M417.2,57.53 L440.6,57.53" stroke="#A52A2A" stroke-width="1.62"/>
<g fill="#A52A2A" stroke="#A52A2A" stroke-width="1.08" stroke-linejoin="miter"><path d="M430.77,53.99 L432.54,55.76 L430.77,57.53 L432.54,59.3 L430.77,61.07 L429,59.3 L427.23,61.07 L425.46,59.3 L427.23,57.53 L425.46,55.76 L427.23,53.99 L429,55.76Z"/></g>
<path d="M417.2,74.06 L440.6,74.06" stroke="#228B22" stroke-width="1.62"/>
<g fill="#228B22" stroke="#228B22" stroke-width="1.08" stroke-linejoin="miter"><path d="M429,77.81 L432.75,70.31 L425.25,70.31Z"/></g>
<path d="M417.2,90.59 L440.6,90.59" stroke="#FF00FF" stroke-width="1.62"/>
<g fill="#FF00FF" stroke="#FF00FF" stroke-width="1.08" stroke-linejoin="bevel"><path d="M429,86.47 L429.93,89.32 L432.92,89.32 L430.5,91.08 L431.42,93.93 L429,92.17 L426.58,93.93 L427.5,91.08 L425.08,89.32 L428.07,89.32Z"/></g>
<path d="M417.2,107.12 L440.6,107.12" stroke="#DAA520" stroke-width="1.62"/>
<g fill="#DAA520" stroke="#DAA520" stroke-width="1.08" stroke-linejoin="miter"><path d="M429,103.37 L432.75,110.87 L425.25,110.87Z"/></g>
<path d="M417.2,123.65 L440.6,123.65" stroke="#000080" stroke-width="1.62"/>
<g fill="#000080" stroke="#000080" stroke-width="1.08" stroke-linejoin="miter"><circle cx="429" cy="123.65" r="3.75"/></g>
<path d="M417.2,140.18 L440.6,140.18" stroke="#FFD700" stroke-width="1.62"/>
<g fill="#FFD700" stroke="#FFD700" stroke-width="1.08" stroke-linejoin="miter"><rect x="425.25" y="136.43" width="7.5" height="7.5"/></g>
<path d="M417.2,156.71 L440.6,156.71" stroke="#00BFFF" stroke-width="1.62" stroke-dasharray="6,2.6"/>
<g fill="#00BFFF" stroke="#00BFFF" stroke-width="1.08" stroke-linejoin="miter"><path d="M429,152.96 L432.57,155.55 L431.2,159.74 L426.8,159.74 L425.43,155.55Z"/></g>
<text x="449.27" y="44.4" font-size="10.9" fill="#000" stroke="#000" stroke-width="0.2" textLength="7.48" lengthAdjust="spacingAndGlyphs">H</text>
<text x="457.5" y="46.4" font-size="8.6" fill="#000" stroke="#000" stroke-width="0.2" textLength="4.14" lengthAdjust="spacingAndGlyphs">3</text>
<text x="462.77" y="44.4" font-size="10.9" fill="#000" stroke="#000" stroke-width="0.2" textLength="8.24" lengthAdjust="spacingAndGlyphs">O</text>
<text x="448.95" y="60.93" font-size="10.9" fill="#000" stroke="#000" stroke-width="0.2" textLength="16.42" lengthAdjust="spacingAndGlyphs">OH</text>
<rect x="468.3" y="53.93" width="4.6" height="0.95" fill="#000"/>
<circle cx="452.7" cy="71.16" r="1.2" fill="#000"/>
<text x="457.57" y="77.46" font-size="10.9" fill="#000" stroke="#000" stroke-width="0.2" textLength="15.77" lengthAdjust="spacingAndGlyphs">OH</text>
<text x="448.95" y="93.99" font-size="10.9" fill="#000" stroke="#000" stroke-width="0.2" textLength="6.27" lengthAdjust="spacingAndGlyphs">e</text>
<text x="455.77" y="94.89" font-size="8.9" fill="#000" stroke="#000" stroke-width="0.2" textLength="9.25" lengthAdjust="spacingAndGlyphs">aq</text>
<text x="449.27" y="110.52" font-size="10.9" fill="#000" stroke="#000" stroke-width="0.2" textLength="7.48" lengthAdjust="spacingAndGlyphs">H</text>
<circle cx="461.1" cy="104.32" r="1.2" fill="#000"/>
<text x="449.27" y="127.05" font-size="10.9" fill="#000" stroke="#000" stroke-width="0.2" textLength="7.48" lengthAdjust="spacingAndGlyphs">H</text>
<text x="457.53" y="129.05" font-size="8.6" fill="#000" stroke="#000" stroke-width="0.2" textLength="4.11" lengthAdjust="spacingAndGlyphs">2</text>
<text x="449.27" y="143.58" font-size="10.9" fill="#000" stroke="#000" stroke-width="0.2" textLength="7.48" lengthAdjust="spacingAndGlyphs">H</text>
<text x="457.53" y="145.58" font-size="8.6" fill="#000" stroke="#000" stroke-width="0.2" textLength="4.11" lengthAdjust="spacingAndGlyphs">2</text>
<text x="462.08" y="143.58" font-size="10.9" fill="#000" stroke="#000" stroke-width="0.2" textLength="8.12" lengthAdjust="spacingAndGlyphs">O</text>
<text x="470.87" y="145.58" font-size="8.6" fill="#000" stroke="#000" stroke-width="0.2" textLength="4.84" lengthAdjust="spacingAndGlyphs">2</text>
<text x="449.63" y="160.11" font-size="10.9" fill="#000" stroke="#000" stroke-width="0.2" textLength="23.63" lengthAdjust="spacingAndGlyphs">Sum</text>
<rect x="405.3" y="382.7" width="67.1" height="132.6" rx="2.46" fill="#fff" stroke="#e0e0e0" stroke-width="0.88"/>
<path d="M408.84,392 L431.81,392" stroke="#F08080" stroke-width="1.59"/>
<g fill="#F08080" stroke="#F08080" stroke-width="1.06" stroke-linejoin="miter"><path d="M420.42,386.79 L423.55,392 L420.42,397.21 L417.3,392Z"/></g>
<path d="M408.84,408.24 L431.81,408.24" stroke="#A52A2A" stroke-width="1.59"/>
<g fill="#A52A2A" stroke="#A52A2A" stroke-width="1.06" stroke-linejoin="miter"><path d="M422.16,404.77 L423.89,406.5 L422.16,408.24 L423.89,409.98 L422.16,411.71 L420.42,409.98 L418.69,411.71 L416.95,409.98 L418.69,408.24 L416.95,406.5 L418.69,404.77 L420.42,406.5Z"/></g>
<path d="M408.84,424.48 L431.81,424.48" stroke="#228B22" stroke-width="1.59"/>
<g fill="#228B22" stroke="#228B22" stroke-width="1.06" stroke-linejoin="miter"><path d="M420.42,428.16 L424.11,420.8 L416.74,420.8Z"/></g>
<path d="M408.84,440.72 L431.81,440.72" stroke="#FF00FF" stroke-width="1.59"/>
<g fill="#FF00FF" stroke="#FF00FF" stroke-width="1.06" stroke-linejoin="bevel"><path d="M420.42,436.67 L421.33,439.47 L424.28,439.47 L421.89,441.2 L422.8,444 L420.42,442.27 L418.04,444 L418.95,441.2 L416.57,439.47 L419.51,439.47Z"/></g>
<path d="M408.84,456.96 L431.81,456.96" stroke="#DAA520" stroke-width="1.59"/>
<g fill="#DAA520" stroke="#DAA520" stroke-width="1.06" stroke-linejoin="miter"><path d="M420.42,453.28 L424.11,460.64 L416.74,460.64Z"/></g>
<path d="M408.84,473.2 L431.81,473.2" stroke="#000080" stroke-width="1.59"/>
<g fill="#000080" stroke="#000080" stroke-width="1.06" stroke-linejoin="miter"><circle cx="420.42" cy="473.2" r="3.68"/></g>
<path d="M408.84,489.44 L431.81,489.44" stroke="#FFD700" stroke-width="1.59"/>
<g fill="#FFD700" stroke="#FFD700" stroke-width="1.06" stroke-linejoin="miter"><rect x="416.74" y="485.76" width="7.37" height="7.37"/></g>
<path d="M408.84,505.68 L431.81,505.68" stroke="#00BFFF" stroke-width="1.59" stroke-dasharray="5.89,2.55"/>
<g fill="#00BFFF" stroke="#00BFFF" stroke-width="1.06" stroke-linejoin="miter"><path d="M420.42,502 L423.93,504.54 L422.59,508.66 L418.26,508.66 L416.92,504.54Z"/></g>
<text x="440.33" y="395.34" font-size="10.7" fill="#000" stroke="#000" stroke-width="0.2" textLength="7.35" lengthAdjust="spacingAndGlyphs">H</text>
<text x="448.41" y="397.3" font-size="8.45" fill="#000" stroke="#000" stroke-width="0.2" textLength="4.07" lengthAdjust="spacingAndGlyphs">3</text>
<text x="453.59" y="395.34" font-size="10.7" fill="#000" stroke="#000" stroke-width="0.2" textLength="8.09" lengthAdjust="spacingAndGlyphs">O</text>
<text x="440.02" y="411.58" font-size="10.7" fill="#000" stroke="#000" stroke-width="0.2" textLength="16.13" lengthAdjust="spacingAndGlyphs">OH</text>
<rect x="459.02" y="404.7" width="4.52" height="0.93" fill="#000"/>
<circle cx="443.7" cy="421.63" r="1.18" fill="#000"/>
<text x="448.48" y="427.82" font-size="10.7" fill="#000" stroke="#000" stroke-width="0.2" textLength="15.48" lengthAdjust="spacingAndGlyphs">OH</text>
<text x="440.01" y="444.06" font-size="10.7" fill="#000" stroke="#000" stroke-width="0.2" textLength="6.16" lengthAdjust="spacingAndGlyphs">e</text>
<text x="446.71" y="444.94" font-size="8.74" fill="#000" stroke="#000" stroke-width="0.2" textLength="9.08" lengthAdjust="spacingAndGlyphs">aq</text>
<text x="440.33" y="460.3" font-size="10.7" fill="#000" stroke="#000" stroke-width="0.2" textLength="7.35" lengthAdjust="spacingAndGlyphs">H</text>
<circle cx="451.94" cy="454.21" r="1.18" fill="#000"/>
<text x="440.33" y="476.54" font-size="10.7" fill="#000" stroke="#000" stroke-width="0.2" textLength="7.35" lengthAdjust="spacingAndGlyphs">H</text>
<text x="448.44" y="478.5" font-size="8.45" fill="#000" stroke="#000" stroke-width="0.2" textLength="4.04" lengthAdjust="spacingAndGlyphs">2</text>
<text x="440.33" y="492.78" font-size="10.7" fill="#000" stroke="#000" stroke-width="0.2" textLength="7.35" lengthAdjust="spacingAndGlyphs">H</text>
<text x="448.44" y="494.74" font-size="8.45" fill="#000" stroke="#000" stroke-width="0.2" textLength="4.04" lengthAdjust="spacingAndGlyphs">2</text>
<text x="452.91" y="492.78" font-size="10.7" fill="#000" stroke="#000" stroke-width="0.2" textLength="7.98" lengthAdjust="spacingAndGlyphs">O</text>
<text x="461.53" y="494.74" font-size="8.45" fill="#000" stroke="#000" stroke-width="0.2" textLength="4.75" lengthAdjust="spacingAndGlyphs">2</text>
<text x="440.68" y="509.02" font-size="10.7" fill="#000" stroke="#000" stroke-width="0.2" textLength="23.21" lengthAdjust="spacingAndGlyphs">Sum</text>
</svg>
</body></html>
